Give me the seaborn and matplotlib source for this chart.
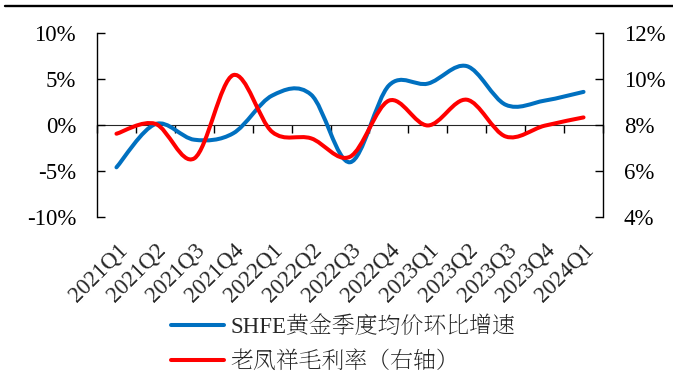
import numpy as np
import pandas as pd
import matplotlib
matplotlib.use("Agg")
import matplotlib.pyplot as plt
import seaborn as sns
from matplotlib.path import Path
from matplotlib.patches import PathPatch
from matplotlib.lines import Line2D
from matplotlib.font_manager import FontProperties

categories = ["2021Q1", "2021Q2", "2021Q3", "2021Q4", "2022Q1", "2022Q2", "2022Q3",
              "2022Q4", "2023Q1", "2023Q2", "2023Q3", "2023Q4", "2024Q1"]
shfe_qoq = [-4.6, 0.1, -1.6, -0.9, 3.2, 3.3, -4.05, 4.3, 4.5, 6.4, 2.2, 2.65, 3.6]
gross_margin = [7.62, 8.05, 6.55, 10.17, 7.7, 7.42, 6.62, 9.06, 7.98, 9.1, 7.5, 7.97, 8.33]
left_ticks = [-10, -5, 0, 5, 10]
right_ticks = [4, 6, 8, 10, 12]
label_blue = "SHFE黄金季度均价环比增速"
label_red = "老凤祥毛利率（右轴）"

BLUE = "#0070C0"
RED = "#FF0000"

sns.set_style("white")
FAMILY = ["Liberation Serif", "Noto Serif SC"]
plt.rcParams["font.family"] = FAMILY

W, H = 673, 374
fig = plt.figure(figsize=(W / 100, H / 100), dpi=100)
ax = fig.add_axes([97 / W, 1 - 217 / H, (603 - 97) / W, (217 - 33) / H])
ax2 = ax.twinx()

df = pd.DataFrame({"x": np.arange(len(categories)), "shfe": shfe_qoq, "gm": gross_margin})
sns.lineplot(data=df, x="x", y="shfe", ax=ax, lw=0, legend=False)
sns.lineplot(data=df, x="x", y="gm", ax=ax2, lw=0, legend=False)


def smooth_path(xs, ys):
    xs = np.asarray(xs, float)
    ys = np.asarray(ys, float)
    n = len(xs)
    verts = [(xs[0], ys[0])]
    codes = [Path.MOVETO]
    for i in range(n - 1):
        p0 = np.array([xs[max(i - 1, 0)], ys[max(i - 1, 0)]])
        p1 = np.array([xs[i], ys[i]])
        p2 = np.array([xs[i + 1], ys[i + 1]])
        p3 = np.array([xs[min(i + 2, n - 1)], ys[min(i + 2, n - 1)]])
        c1 = p1 + (p2 - p0) / 6.0
        c2 = p2 - (p3 - p1) / 6.0
        verts += [tuple(c1), tuple(c2), tuple(p2)]
        codes += [Path.CURVE4] * 3
    return Path(verts, codes)


lw = 2.9
ax.add_patch(PathPatch(smooth_path(df["x"], df["shfe"]), fill=False, ec=BLUE, lw=lw,
                       capstyle="round", joinstyle="round", zorder=3))
ax2.add_patch(PathPatch(smooth_path(df["x"], df["gm"]), fill=False, ec=RED, lw=lw,
                        capstyle="round", joinstyle="round", zorder=3))

ax.set_xlim(-0.5, len(categories) - 0.5)
ax.set_ylim(-10, 10)
ax2.set_ylim(4, 12)

for a in (ax, ax2):
    a.set_xlabel("")
    a.set_ylabel("")
    a.set_facecolor("none")
    a.grid(False)
    for s in ("top", "bottom"):
        a.spines[s].set_visible(False)
ax.spines["right"].set_visible(False)
ax2.spines["left"].set_visible(False)
ax.spines["left"].set_linewidth(1.0)
ax2.spines["right"].set_linewidth(1.0)
ax.spines["left"].set_color("black")
ax2.spines["right"].set_color("black")

FS = 16.5
ax.set_yticks(left_ticks)
ax.set_yticklabels([f"{v}%" for v in left_ticks], family=FAMILY, size=FS)
ax2.set_yticks(right_ticks)
ax2.set_yticklabels([f"{v}%" for v in right_ticks], family=FAMILY, size=FS)
ax.tick_params(axis="y", direction="in", length=5.5, width=1.0, pad=15,
               left=True, colors="black")
ax2.tick_params(axis="y", direction="in", length=5.5, width=1.0, pad=15,
                right=True, colors="black")

ax.set_xticks(np.arange(len(categories)))
ax.set_xticklabels(categories, rotation=45, ha="right", va="top", rotation_mode="anchor",
                   family=FAMILY, size=FS)
ax.tick_params(axis="x", length=0, pad=16, bottom=True)

# category axis crossing at zero
sec = ax.secondary_xaxis(0.5)
sec.set_xticks(np.arange(len(categories) + 1) - 0.5)
sec.set_xticklabels([])
sec.tick_params(axis="x", direction="in", length=5.5, width=1.0, color="black")
sec.spines["bottom"].set_linewidth(1.0)
sec.spines["bottom"].set_color("black")

handles = [Line2D([], [], color=BLUE, lw=lw), Line2D([], [], color=RED, lw=lw)]
leg = fig.legend(handles, [label_blue, label_red], loc="upper left",
                 bbox_to_anchor=(171 / W, 1 - 316 / H), frameon=False,
                 prop=FontProperties(family=FAMILY, size=FS),
                 handlelength=2.3, handletextpad=0.28, labelspacing=0.6, borderpad=0,
                 borderaxespad=0)
for t in leg.get_texts():
    t.set_fontfamily(FAMILY)

fig.add_artist(Line2D([5 / W, 1.0], [1 - 6 / H, 1 - 6 / H], color="black", lw=1.7))

fig.savefig("out.png", dpi=100)
